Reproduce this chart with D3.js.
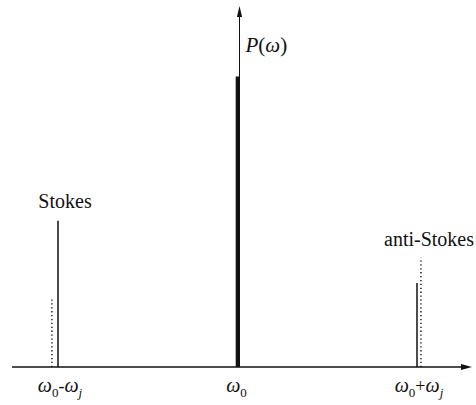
<!DOCTYPE html>
<html>
<head>
<meta charset="utf-8">
<script src="https://cdn.jsdelivr.net/npm/d3@7"></script>
<style>
  html, body { margin: 0; padding: 0; background: #fff; }
  svg { display: block; }
</style>
</head>
<body>
<svg id="chart" width="476" height="405"></svg>
<script>
// Spectral lines: frequency offset (in units of ωj from ω0) and relative power
const lineNames   = ["Stokes", "Rayleigh", "anti-Stokes"];
const lineFreqs   = [-1, 0, 1];
const linePowers  = [0.405, 0.805, 0.233];
const lineWidths  = [1.5, 3.6, 1.5];
// Companion (dotted) lines next to the Raman lines
const dotFreqs    = [-1.034, 1.022];
const dotPowers   = [0.194, 0.303];
// Tick labels under the frequency axis: [base, subscript, operator, base, subscript]
const tickFreqs   = [-1, 0, 1];
const tickLabels  = [["ω", "0", "-", "ω", "j"], ["ω", "0"], ["ω", "0", "+", "ω", "j"]];
// Names written above the side lines
const nameFreqs   = [-1, 1];
const nameTexts   = ["Stokes", "anti-Stokes"];

const serif = "'Liberation Serif', 'DejaVu Serif', 'Times New Roman', Times, serif";
const svg = d3.select("#chart");
const x = d3.scaleLinear().domain([-1, 1]).range([58, 417]);
const y = d3.scaleLinear().domain([0, 1]).range([367, 6]);
const ink = "#111";

// frequency axis with arrow
const xAxisL = 12, xAxisR = 472;
svg.append("line")
  .attr("x1", xAxisL).attr("x2", xAxisR - 6)
  .attr("y1", y(0)).attr("y2", y(0))
  .attr("stroke", ink).attr("stroke-width", 1.5);
svg.append("path")
  .attr("d", `M${xAxisR},${y(0)} L${xAxisR - 11},${y(0) - 3} L${xAxisR - 11},${y(0) + 3} Z`)
  .attr("fill", ink);

// power axis with arrow, through ω0
const x0 = x(0) + 2;
svg.append("line")
  .attr("x1", x0).attr("x2", x0)
  .attr("y1", y(0)).attr("y2", y(1) + 8)
  .attr("stroke", ink).attr("stroke-width", 1);
svg.append("path")
  .attr("d", `M${x0},${y(1)} L${x0 - 2.6},${y(1) + 11} L${x0 + 2.6},${y(1) + 11} Z`)
  .attr("fill", ink);

svg.append("text")
  .attr("x", x0 + 6).attr("y", 52)
  .attr("font-family", serif).attr("fill", ink)
  .attr("font-size", 21)
  .call(t => {
    t.append("tspan").attr("font-style", "italic").text("P");
    t.append("tspan").text("(");
    t.append("tspan").attr("font-style", "italic").text("ω");
    t.append("tspan").text(")");
  });

// main spectral lines
svg.selectAll("line.spec")
  .data(lineFreqs)
  .join("line")
  .attr("class", "spec")
  .attr("x1", d => x(d)).attr("x2", d => x(d))
  .attr("y1", y(0)).attr("y2", (d, i) => y(linePowers[i]))
  .attr("stroke", ink)
  .attr("stroke-width", (d, i) => lineWidths[i]);

// dotted companion lines
svg.selectAll("line.dot")
  .data(dotFreqs)
  .join("line")
  .attr("class", "dot")
  .attr("x1", d => x(d)).attr("x2", d => x(d))
  .attr("y1", y(0)).attr("y2", (d, i) => y(dotPowers[i]))
  .attr("stroke", ink)
  .attr("stroke-width", 1.4)
  .attr("stroke-dasharray", "1.3,2.6");

// names above the side lines
svg.selectAll("text.name")
  .data(nameFreqs)
  .join("text")
  .attr("class", "name")
  .attr("font-family", serif).attr("fill", ink)
  .attr("x", (d, i) => x(d) + (i === 0 ? 7 : 12))
  .attr("y", (d, i) => i === 0 ? 208 : 246)
  .attr("text-anchor", "middle")
  .attr("font-size", 20)
  .text((d, i) => nameTexts[i]);

// frequency tick labels
tickFreqs.forEach((f, i) => {
  const parts = tickLabels[i];
  const t = svg.append("text")
    .attr("font-family", serif).attr("fill", ink)
    .attr("x", x(f) + (i === 1 ? -1 : 2)).attr("y", 392)
    .attr("text-anchor", "middle")
    .attr("font-size", 20);
  t.append("tspan").attr("font-style", "italic").text(parts[0]);
  t.append("tspan").attr("font-size", 13).attr("dy", 5).text(parts[1]);
  if (parts.length > 2) {
    t.append("tspan").attr("dy", -5).attr("font-size", 18).text(parts[2]);
    t.append("tspan").attr("font-style", "italic").text(parts[3]);
    t.append("tspan").attr("font-style", "italic").attr("font-size", 13).attr("dy", 5).text(parts[4]);
  }
});
</script>
</body>
</html>
